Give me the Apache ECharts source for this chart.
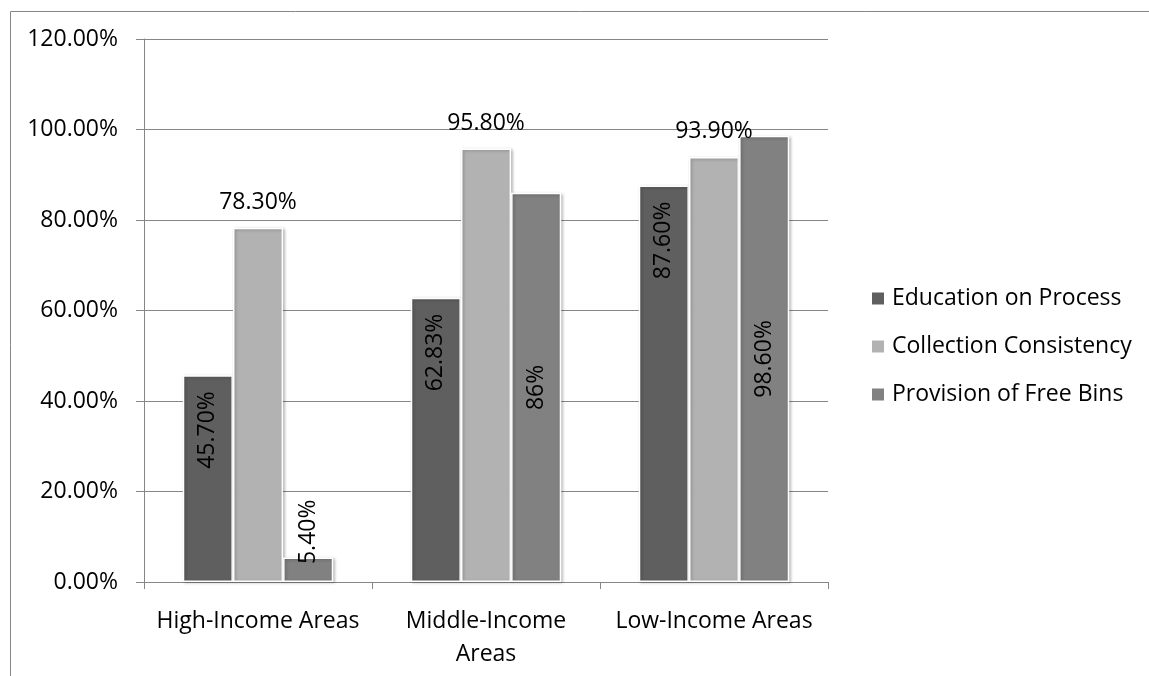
<!DOCTYPE html>
<html>
<head>
<meta charset="utf-8">
<script src="https://cdn.jsdelivr.net/npm/echarts@6/dist/echarts.min.js"></script>
<style>html,body{margin:0;padding:0;background:#fff}#c{width:1149px;height:676px}</style>
</head>
<body>
<div id="c"></div>
<script>
const categories = ['High-Income Areas', 'Middle-Income\nAreas', 'Low-Income Areas'];
const seriesNames = ['Education on Process', 'Collection Consistency', 'Provision of Free Bins'];
const education = [45.7, 62.83, 87.6];
const collection = [78.3, 95.8, 93.9];
const provision = [5.4, 86, 98.6];
const educationLabels = ['45.70%', '62.83%', '87.60%'];
const collectionLabels = ['78.30%', '95.80%', '93.90%'];
const provisionLabels = ['5.40%', '86%', '98.60%'];
const yTicks = [0, 20, 40, 60, 80, 100, 120];

const FONT = 'Open Sans';
const FS = 23;
const chart = echarts.init(document.getElementById('c'), null, {renderer: 'canvas'});
const itemBase = {borderColor: '#ffffff', borderWidth: 1.5, shadowColor: 'rgba(0,0,0,0.25)', shadowBlur: 3, shadowOffsetX: 1.5, shadowOffsetY: 1};

function mk(vals, labels, extra) {
  return vals.map((v, i) => {
    const d = {value: v, labelText: labels[i]};
    if (extra && extra[i]) Object.assign(d, extra[i]);
    return d;
  });
}

chart.setOption({
  animation: false,
  backgroundColor: '#ffffff',
  textStyle: {fontFamily: FONT},
  graphic: [{
    type: 'rect', left: 8, top: 9, silent: true,
    shape: {x: 0.5, y: 0.5, width: 1300, height: 800},
    style: {fill: 'none', stroke: '#868686', lineWidth: 1}
  }],
  grid: {left: 144, right: 321, top: 39, bottom: 94, containLabel: false},
  legend: {
    orient: 'vertical', left: 867, top: 282, itemWidth: 12, itemHeight: 12, itemGap: 25,
    icon: 'rect', data: seriesNames,
    itemStyle: {borderWidth: 0, shadowBlur: 0, shadowOffsetX: 0, shadowOffsetY: 0, shadowColor: 'transparent'},
    textStyle: {fontFamily: FONT, fontSize: FS, color: '#000', padding: [0, 0, 0, 3]}
  },
  xAxis: {
    type: 'category', data: categories,
    axisLine: {lineStyle: {color: '#868686', width: 1}},
    axisTick: {show: true, length: 7, lineStyle: {color: '#868686'}},
    axisLabel: {fontFamily: FONT, fontSize: FS, color: '#000', margin: 23, lineHeight: 33, interval: 0}
  },
  yAxis: {
    type: 'value', min: 0, max: 120, interval: 20,
    axisLine: {show: true, lineStyle: {color: '#868686', width: 1}},
    axisTick: {show: true, length: 8, lineStyle: {color: '#868686'}},
    splitLine: {show: true, lineStyle: {color: '#868686', width: 1}},
    axisLabel: {fontFamily: FONT, fontSize: FS, color: '#000', margin: 26,
      formatter: v => v.toFixed(2) + '%'}
  },
  series: [
    {
      name: seriesNames[0], type: 'bar', barGap: 0, barCategoryGap: '34%',
      itemStyle: Object.assign({color: '#5f5f5f'}, itemBase),
      label: {show: true, position: 'insideTop', rotate: 90, align: 'right', verticalAlign: 'middle',
        distance: 16, fontFamily: FONT, fontSize: FS, color: '#000',
        formatter: p => p.data.labelText},
      data: mk(education, educationLabels)
    },
    {
      name: seriesNames[1], type: 'bar', barGap: 0, barCategoryGap: '34%',
      itemStyle: Object.assign({color: '#b2b2b2'}, itemBase),
      label: {show: true, position: 'top', distance: 14, fontFamily: FONT, fontSize: FS, color: '#000',
        formatter: p => p.data.labelText},
      data: mk(collection, collectionLabels)
    },
    {
      name: seriesNames[2], type: 'bar', barGap: 0, barCategoryGap: '34%',
      itemStyle: Object.assign({color: '#818181'}, itemBase),
      label: {show: true, position: 'inside', rotate: 90, fontFamily: FONT, fontSize: FS, color: '#000',
        formatter: p => p.data.labelText},
      data: mk(provision, provisionLabels, [{label: {offset: [38, 0]}}])
    }
  ]
});
</script>
</body>
</html>
